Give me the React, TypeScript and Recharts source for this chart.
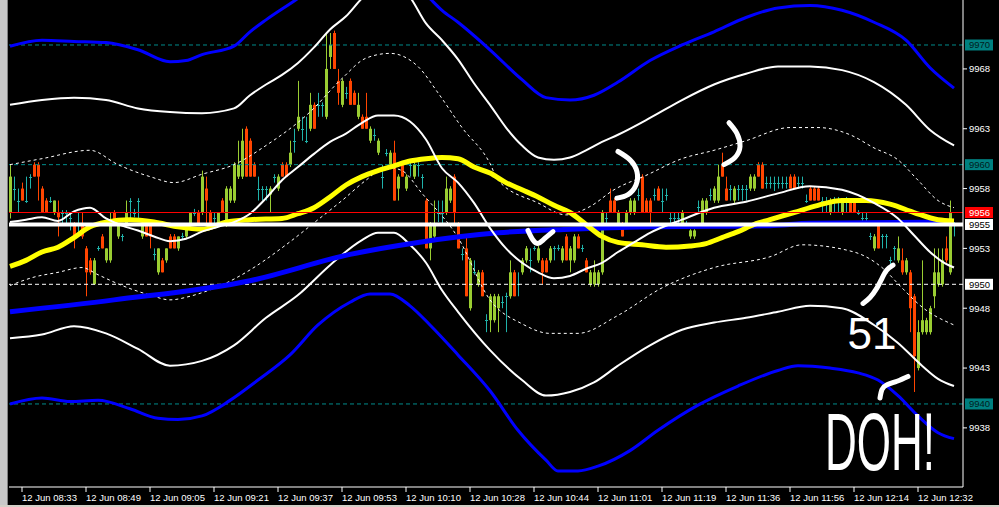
import React from 'react';
import { ComposedChart, Bar, Line, XAxis, YAxis, ReferenceLine, ReferenceDot } from 'recharts';

// [open, high, low, close] per one-minute bar
const candles: number[][] = [
  [9956, 9960, 9955.5, 9959], [9958, 9959, 9957, 9958], [9957, 9958, 9956, 9957], [9958, 9958.5, 9957, 9957],
  [9957, 9959, 9956.8, 9957], [9959, 9959.2, 9958, 9959], [9960, 9960.2, 9959, 9959], [9960, 9960.2, 9957, 9959],
  [9958, 9958.2, 9956, 9956], [9957, 9957.2, 9956, 9956], [9957, 9957.3, 9956.8, 9957], [9956, 9957, 9955.8, 9957],
  [9956, 9957, 9954, 9955.6], [9956, 9956.2, 9955, 9956], [9956, 9956.2, 9955, 9956], [9955.5, 9956, 9954.5, 9955.5],
  [9955, 9955.2, 9953, 9954], [9955, 9956, 9954, 9955], [9955, 9956, 9953.8, 9954], [9953, 9953.2, 9949, 9951],
  [9952, 9952.2, 9950.8, 9951], [9950, 9952.2, 9950, 9952], [9953, 9953.2, 9952.8, 9953], [9954, 9954.2, 9953, 9953],
  [9952, 9953, 9951.8, 9953], [9952, 9956, 9951.8, 9955], [9956, 9956.2, 9955, 9955], [9954, 9955, 9953.8, 9955],
  [9954, 9954.2, 9953.6, 9954], [9955, 9957, 9955, 9956], [9957, 9957.2, 9955.5, 9957], [9956, 9956.3, 9955.6, 9956],
  [9957, 9957.2, 9955.5, 9957], [9954, 9955, 9953.8, 9955], [9955, 9955.2, 9954, 9954], [9955, 9955.2, 9953, 9954],
  [9952.5, 9953, 9952, 9952.5], [9951, 9953, 9950.8, 9953], [9952, 9952.2, 9951, 9951], [9952, 9953, 9951.8, 9953],
  [9954, 9954.2, 9953, 9953], [9954, 9954.2, 9953, 9953], [9953, 9954, 9952.8, 9954], [9954, 9954.3, 9953.7, 9954],
  [9954, 9955, 9953.8, 9955], [9955, 9956, 9954.8, 9956], [9956, 9956.3, 9955.7, 9956], [9956, 9956.2, 9955, 9955],
  [9956, 9959.5, 9955.8, 9959], [9958, 9959, 9955, 9957], [9956, 9956.2, 9954.8, 9955], [9955.5, 9956, 9955, 9955.5],
  [9955, 9956, 9954.8, 9956], [9957, 9957.2, 9956, 9956], [9955, 9958.2, 9954.8, 9958], [9957, 9958.2, 9956.8, 9958],
  [9957, 9960.2, 9956.8, 9960], [9959, 9962, 9958.8, 9960], [9959, 9963, 9958.8, 9962], [9963, 9963.2, 9959, 9959],
  [9962, 9962.2, 9959, 9959], [9960, 9960.2, 9959, 9959], [9958, 9959, 9957, 9958], [9958, 9958.2, 9957, 9958],
  [9958, 9958.2, 9957, 9958], [9957.5, 9958.2, 9956, 9958], [9959, 9959.2, 9958.5, 9959], [9958, 9959.2, 9957.8, 9959],
  [9960, 9960.2, 9959, 9959], [9960, 9960.2, 9959, 9959], [9960, 9962, 9959.8, 9961], [9962, 9963, 9961, 9962],
  [9963, 9967, 9962.8, 9964], [9963, 9964, 9962, 9963], [9962, 9964, 9961.8, 9962], [9963, 9966, 9962.8, 9965],
  [9965, 9965.2, 9963, 9963], [9965, 9966, 9964, 9965], [9965, 9965.2, 9964, 9965], [9964, 9971, 9963.8, 9968],
  [9969, 9971, 9968, 9970], [9971, 9971.2, 9968, 9968], [9967, 9968, 9965, 9966], [9965, 9967.2, 9964.8, 9967],
  [9966, 9966.5, 9965.5, 9966], [9967, 9967.2, 9965, 9965], [9966, 9966.2, 9965, 9965], [9964, 9966, 9963.8, 9965],
  [9964, 9964.2, 9963, 9963], [9964, 9966, 9963, 9963], [9962, 9963.2, 9961.8, 9963], [9962.5, 9963, 9962, 9962.5],
  [9961, 9962.2, 9960.8, 9962], [9959, 9960, 9958, 9959], [9961, 9961.3, 9960.7, 9961], [9960, 9961.2, 9959.8, 9961],
  [9961, 9962, 9957, 9957], [9958, 9959.2, 9957, 9959], [9960, 9960.2, 9959, 9959], [9958, 9959.2, 9957.8, 9959],
  [9960, 9960.2, 9959, 9960], [9959, 9960.2, 9958.8, 9960], [9960, 9960.2, 9959, 9960], [9959, 9959.2, 9958, 9959],
  [9957, 9957.2, 9953, 9953], [9953, 9955.2, 9952, 9955], [9954, 9957, 9953.8, 9955], [9956, 9957, 9955.2, 9956],
  [9956, 9957, 9955, 9956], [9956, 9959, 9955.8, 9958], [9957, 9958.2, 9956.8, 9958], [9959, 9959.2, 9955, 9956],
  [9955, 9955.2, 9953, 9953], [9952.5, 9953, 9952, 9952.5], [9953, 9954, 9949, 9949], [9948, 9952.2, 9947.8, 9952],
  [9951, 9952, 9950.8, 9951], [9950, 9951.2, 9949.8, 9951], [9951, 9951.2, 9949, 9949], [9947, 9947.5, 9946, 9947],
  [9947, 9949.2, 9946, 9949], [9947, 9949.2, 9946.8, 9949], [9948, 9949.2, 9946, 9949], [9948.5, 9949, 9948, 9948.5],
  [9949, 9949.3, 9946, 9949], [9949, 9952, 9948.8, 9951], [9951, 9951.2, 9949, 9949], [9950, 9951, 9949, 9950],
  [9951, 9952.2, 9950.8, 9952], [9952, 9953.2, 9951.8, 9953], [9952, 9953, 9951, 9952], [9953, 9953.2, 9952.8, 9953],
  [9952, 9953.2, 9951.8, 9953], [9952, 9952.2, 9950, 9951], [9952, 9952.2, 9951, 9951], [9952, 9953.2, 9951.8, 9953],
  [9953, 9953.2, 9952, 9953], [9953, 9953.3, 9952.8, 9953], [9952, 9953.2, 9951.8, 9953], [9954, 9954.2, 9952, 9952],
  [9952, 9953.2, 9951, 9953], [9952, 9954.2, 9951.8, 9954], [9954, 9954.2, 9953, 9953], [9953, 9953.3, 9952.7, 9953],
  [9952, 9952.2, 9951, 9951], [9950, 9951.2, 9949.8, 9951], [9950, 9952, 9949.8, 9951], [9950, 9951.2, 9949.8, 9951],
  [9951, 9956.2, 9950.8, 9956], [9955.5, 9956, 9955, 9955.5], [9957, 9958, 9956, 9956], [9957, 9957.2, 9956, 9956],
  [9955, 9956.2, 9954.8, 9956], [9955, 9955.2, 9954, 9954], [9955, 9956.2, 9954.8, 9956], [9956, 9957.2, 9955.8, 9957],
  [9956, 9957.2, 9955.8, 9957], [9957.5, 9958, 9957, 9957.5], [9959, 9959.2, 9956, 9956], [9957, 9957.2, 9956, 9956],
  [9957, 9957.2, 9955, 9956], [9957.5, 9958, 9957, 9957.5], [9958, 9958.2, 9957, 9957], [9957, 9958, 9956, 9957],
  [9957.5, 9958, 9957, 9957.5], [9955.5, 9956, 9955, 9955.5], [9955.5, 9956, 9955, 9955.5], [9955.5, 9956, 9955, 9955.5],
  [9955, 9956.2, 9954.8, 9956], [9955, 9955.3, 9954.7, 9955], [9954, 9954.6, 9953.8, 9954.5], [9954, 9954.6, 9953.8, 9954.5],
  [9956.5, 9957, 9956, 9956.5], [9955, 9957.2, 9954.8, 9957], [9956, 9957.2, 9955.8, 9957], [9957.5, 9958, 9957, 9957.5],
  [9957, 9958.2, 9956.8, 9958], [9957, 9960, 9956.8, 9959], [9960, 9961, 9959, 9959], [9958, 9959, 9957, 9957],
  [9958, 9958.3, 9957, 9958], [9957, 9958.2, 9956.8, 9958], [9958, 9958.3, 9957, 9958], [9958, 9958.3, 9957, 9958],
  [9958, 9958.3, 9957, 9958], [9958, 9959.2, 9957.8, 9959], [9958, 9959.2, 9957.8, 9959], [9960, 9960.2, 9959, 9959],
  [9960, 9960.2, 9958, 9958], [9958.5, 9959, 9958, 9958.5], [9958.5, 9959, 9958, 9958.5], [9958.5, 9959, 9957.8, 9958.5],
  [9958.5, 9959, 9958, 9958.5], [9958.5, 9959, 9958, 9958.5], [9958.5, 9959, 9958, 9958.5], [9959, 9959.2, 9958, 9958],
  [9959, 9959.2, 9958, 9958], [9958.5, 9959, 9958, 9958.5], [9958.5, 9959, 9958, 9958.5], [9957, 9957.5, 9956.8, 9957],
  [9958, 9958.2, 9957, 9957], [9958, 9958.2, 9957, 9957], [9958, 9958.2, 9957, 9957], [9957, 9957.3, 9956, 9957],
  [9957, 9957.3, 9956, 9957], [9956, 9957.2, 9955.8, 9957], [9957, 9957.3, 9956, 9957], [9957, 9957.3, 9956, 9957],
  [9956, 9957.2, 9955.8, 9957], [9957, 9957.3, 9956, 9957], [9957, 9957.2, 9956, 9956], [9957, 9957.2, 9956, 9956],
  [9956, 9956.2, 9955.8, 9956], [9955.5, 9956, 9955, 9955.5], [9955.5, 9956, 9955, 9955.5], [9954, 9954.3, 9953.7, 9954],
  [9953, 9954.2, 9952.8, 9954], [9955, 9955.2, 9953, 9953], [9954, 9954.2, 9953, 9954], [9954, 9954.2, 9953, 9954],
  [9952, 9952.3, 9951.7, 9952], [9953, 9953.2, 9952, 9953], [9952, 9954, 9951.8, 9953], [9952, 9953, 9950.8, 9951],
  [9951, 9952.2, 9950.8, 9952], [9951, 9951.2, 9946, 9948], [9949, 9949.2, 9941, 9944], [9943, 9947, 9942.8, 9946],
  [9946, 9952, 9945.8, 9947], [9946, 9947.2, 9945.8, 9947], [9946, 9948.2, 9945.8, 9948], [9949, 9953, 9948, 9951],
  [9950, 9953, 9949.8, 9951], [9950, 9953, 9949.8, 9952], [9953, 9954, 9951.8, 9952], [9951, 9957, 9950.8, 9956],
  [9955, 9955.2, 9954, 9955],
];

// indicator readings: [bar index, price]
const blueUpper = [[0,9969.9],[8,9970.4],[16,9970.3],[24,9970.2],[32,9969.6],[40,9968.6],[44,9968.7],[48,9969.2],[56,9969.9],[60,9971.1],[64,9972.1],[72,9973.9],[80,9975.9],[88,9977.1],[96,9976.3],[104,9974.2],[108,9972.9],[112,9971.9],[120,9969.6],[128,9967.1],[134,9965.6],[140,9965.4],[146,9965.8],[152,9966.9],[160,9968.7],[168,9970],[176,9971.1],[184,9972.3],[192,9973.1],[200,9973.3],[208,9972.9],[216,9971.9],[224,9970.4],[230,9968.1],[236,9966.4]];
const blueLower = [[0,9940],[8,9940.5],[15,9940.2],[22,9940.3],[30,9939.6],[37,9938.8],[42,9938.7],[48,9939],[55,9940.3],[62,9942],[70,9944.1],[77,9946.6],[85,9948.5],[90,9949.2],[95,9949.2],[100,9948.2],[105,9946.6],[112,9944.1],[120,9941.1],[127,9937.8],[134,9935.3],[137,9934.4],[142,9934.4],[147,9934.8],[155,9936.1],[162,9937.8],[172,9939.9],[182,9941.5],[192,9942.8],[197,9943.2],[205,9943],[212,9942.6],[217,9942],[222,9940.7],[227,9939],[232,9937.6],[236,9937.1]];
const whiteUpper = [[0,9965],[8,9965.4],[16,9965.6],[24,9965.4],[32,9964.7],[40,9964.4],[48,9964.3],[56,9964.7],[60,9965.8],[64,9966.7],[68,9967.5],[72,9968.5],[76,9969.8],[80,9971.3],[84,9972.4],[88,9973.9],[92,9975],[96,9975.3],[100,9974],[104,9971.8],[108,9970.4],[112,9968.8],[116,9966.8],[120,9965],[124,9963.1],[128,9961.6],[132,9960.6],[136,9960.4],[140,9960.6],[144,9961.2],[148,9961.9],[152,9962.5],[160,9963.9],[168,9965.4],[176,9966.7],[184,9967.6],[192,9968.2],[200,9968.2],[208,9967.9],[216,9966.9],[224,9965],[230,9962.9],[236,9961.6]];
const whiteLower = [[0,9945.5],[8,9945.8],[16,9946.5],[24,9945.9],[32,9944.6],[40,9943.2],[48,9943.6],[56,9944.9],[64,9947.2],[72,9949.1],[80,9951.6],[88,9953.7],[92,9954.3],[96,9954.3],[100,9953.3],[104,9951.8],[108,9949.5],[112,9947.7],[120,9944.5],[128,9942],[134,9940.7],[140,9941],[146,9941.8],[152,9943.2],[160,9944.9],[168,9946.2],[176,9946.8],[184,9947.2],[192,9947.7],[200,9948.2],[208,9948],[216,9946.6],[222,9945.1],[228,9943.2],[232,9942.1],[236,9941.5]];
const dashUpper = [[0,9960],[8,9960.5],[20,9961.2],[27,9960],[35,9959],[41,9958.5],[48,9959.2],[56,9960],[64,9961.6],[75,9964.4],[83,9967.2],[89,9968.9],[95,9969.3],[102,9968.2],[107,9966],[113,9963.1],[120,9960.1],[122,9958.7],[132,9956.8],[139,9955.8],[145,9956.5],[151,9957.9],[159,9959.1],[168,9960.5],[176,9961.2],[184,9962],[195,9963.1],[202,9963.1],[210,9962.5],[216,9961.4],[222,9960.4],[227,9958.7],[232,9957],[236,9956.4]];
const dashLower = [[0,9949.9],[6,9950.6],[12,9951],[18,9951.4],[22,9950.8],[28,9949.9],[35,9949.1],[40,9948.7],[45,9949],[48,9949.3],[54,9950.1],[60,9951.2],[69,9953.3],[77,9955.4],[83,9957],[89,9958.7],[94,9959.8],[98,9959.5],[103,9957.6],[112,9953.9],[120,9948.7],[128,9946.7],[135,9945.9],[142,9945.9],[152,9947.4],[163,9949.7],[176,9951.4],[190,9952.3],[198,9953.3],[211,9952.7],[218,9951.4],[223,9949.7],[228,9948.1],[236,9946.6]];
const centerMa = [[0,9955.2],[4,9955.4],[8,9955.6],[12,9955.3],[16,9956.1],[20,9956.4],[24,9955.5],[28,9954.9],[32,9954.5],[36,9954],[40,9953.6],[44,9953.8],[48,9954.4],[52,9954.8],[56,9955.2],[60,9955.9],[64,9957.2],[68,9958.7],[72,9959.8],[76,9960.9],[80,9961.9],[84,9962.6],[88,9963.5],[92,9964.1],[96,9964.1],[100,9963.6],[104,9962.1],[108,9959.7],[112,9958.5],[116,9956.8],[120,9954.7],[124,9953],[128,9951.8],[132,9951],[136,9950.5],[140,9950.7],[144,9951.3],[148,9951.8],[152,9952.7],[156,9953.5],[160,9954.3],[168,9955.4],[176,9956.4],[184,9956.9],[192,9957.6],[200,9958.2],[208,9957.9],[216,9956.8],[222,9955.5],[226,9954.1],[230,9952.7],[234,9951.7],[236,9951.4]];
const yellowMa = [[0,9951.5],[4,9952],[8,9952.7],[12,9953.1],[16,9953.9],[20,9954.8],[24,9955.2],[30,9955.4],[36,9955.2],[42,9954.8],[48,9954.6],[54,9955.2],[60,9955.4],[68,9955.5],[72,9955.9],[76,9956.4],[80,9957.3],[84,9958.3],[88,9959],[92,9959.5],[96,9959.9],[100,9960.3],[104,9960.5],[108,9960.6],[112,9960.5],[116,9959.8],[120,9959.3],[124,9958.5],[128,9957.9],[132,9957.3],[136,9956.6],[140,9956],[144,9955],[148,9954],[152,9953.5],[158,9953.3],[164,9953.1],[170,9953.2],[174,9953.4],[178,9953.9],[182,9954.4],[186,9955],[190,9955.4],[196,9956],[202,9956.6],[208,9957],[214,9957],[220,9956.7],[226,9956],[232,9955.4],[236,9955.3]];
const blueMa = [[0,9947.7],[26,9948.7],[60,9950.3],[85,9952.5],[102,9953.5],[122,9954.3],[140,9954.6],[160,9954.8],[190,9954.9],[200,9955.1],[236,9955.2]];

// hand-drawn marks on the chart, in chart units
const scribble1 = [[152,9961.1],[155,9960.4],[156.75,9959.4],[156.5,9958.3],[154.5,9957.5],[151.75,9957.2]];
const scribble2 = [[179.75,9963.5],[181.75,9962.6],[182.5,9961.5],[181.25,9960.6],[178.5,9960]];
const scribble3 = [[129.5,9954.5],[130.75,9953.7],[132,9953.4],[133.25,9953.7],[135.75,9954.4]];
const scribble4 = [[213.25,9948.4],[215,9948.9],[216.75,9949.7],[218,9950.5],[219.25,9951.2],[220.75,9951.6]];
const scribble5 = [[217.5,9940.5],[218,9941.2],[219.25,9941.6],[221.75,9941.9],[224.5,9942.3]];
const notes = [
  { i: 215.5, p: 9944.6, text: '51', size: 44, stretch: 1 },
  { i: 217.5, p: 9934.5, text: 'DOH!', size: 44, stretch: 1.85 },
];

const timeTicks = [3, 19, 35, 51, 67, 83, 99, 115, 131, 147, 163, 179, 195, 211, 227];
const timeLabels = ['12 Jun 08:33', '12 Jun 08:49', '12 Jun 09:05', '12 Jun 09:21', '12 Jun 09:37', '12 Jun 09:53', '12 Jun 10:10', '12 Jun 10:28', '12 Jun 10:44', '12 Jun 11:01', '12 Jun 11:19', '12 Jun 11:36', '12 Jun 11:56', '12 Jun 12:14', '12 Jun 12:32'];
const priceTicks = [9938, 9943, 9948, 9953, 9958, 9963, 9968];

const data = candles.map((c, i) => ({ i, o: c[0], h: c[1], l: c[2], c: c[3] }));
const toSeries = (pts: number[][]) => pts.map(([i, v]) => ({ i, v }));

const FONT = 'Liberation Sans, Arial, sans-serif';
const BULL = '#9acd32';
const BEAR = '#ff4500';
const DOJI = '#20b2aa';

const Candle = (props: any) => {
  const { x, y, width, height, payload } = props;
  if (!payload || x == null || y == null) return null;
  const { o, h, l, c } = payload;
  const hgt = Math.abs(height || 0);
  const top = height < 0 ? y + height : y;
  const ppu = h > l ? hgt / (h - l) : 0;
  const yOf = (p: number) => top + (h - p) * ppu;
  const color = c > o ? BULL : c < o ? BEAR : DOJI;
  const cx = Math.round(x + width / 2);
  const bTop = yOf(Math.max(o, c));
  const bBot = yOf(Math.min(o, c));
  return (
    <g>
      <line x1={cx + 0.5} x2={cx + 0.5} y1={top} y2={top + hgt} stroke={color} strokeWidth={1} />
      {c === o ? (
        <line x1={cx - 1} x2={cx + 2} y1={Math.round(bTop) + 0.5} y2={Math.round(bTop) + 0.5} stroke={color} strokeWidth={1} />
      ) : (
        <rect x={cx - 1} y={bTop} width={3} height={Math.max(1, bBot - bTop)} fill={color} />
      )}
    </g>
  );
};

const TimeTick = (props: any) => {
  const { x, y, payload } = props;
  const idx = timeTicks.indexOf(payload.value);
  if (idx < 0) return null;
  return (
    <text x={x} y={y + 7} fill="#ffffff" fontSize={9.5} fontFamily={FONT} textAnchor="start">
      {timeLabels[idx]}
    </text>
  );
};

const boxLabel = (bg: string, fg: string, text: string) => (props: any) => {
  const vb = props.viewBox;
  if (!vb) return null;
  const bx = vb.x + vb.width + 2;
  const by = vb.y;
  return (
    <g>
      <rect x={bx} y={by - 5.5} width={28} height={11} fill={bg} />
      <text x={bx + 4} y={by + 3.5} fill={fg} fontSize={9.5} fontFamily={FONT}>{text}</text>
    </g>
  );
};

const lineProps = { dataKey: 'v', dot: false, activeDot: false, isAnimationActive: false, legendType: 'none' as const };

export default function App() {
  return (
    <div style={{ position: 'fixed', left: 0, top: 0, width: 999, height: 507, background: '#000', overflow: 'hidden' }}>
      <ComposedChart width={999} height={507} data={data} margin={{ top: 0, right: 0, bottom: 0, left: 9 }}>
        <XAxis
          dataKey="i"
          type="number"
          domain={[-0.25, 238.25]}
          allowDataOverflow
          ticks={timeTicks}
          interval={0}
          height={20}
          stroke="#ffffff"
          tickSize={5}
          tick={<TimeTick />}
        />
        <YAxis
          orientation="right"
          type="number"
          domain={[9933.06, 9973.76]}
          allowDataOverflow
          ticks={priceTicks}
          interval={0}
          width={36}
          stroke="#ffffff"
          tickSize={4}
          tickMargin={2}
          tick={{ fill: '#ffffff', fontSize: 9.5, fontFamily: FONT }}
        />
        <ReferenceLine y={9970} stroke="#008b8b" strokeDasharray="4 3" label={boxLabel('#008080', '#002020', '9970')} />
        <ReferenceLine y={9960} stroke="#008b8b" strokeDasharray="4 3" label={boxLabel('#008080', '#002020', '9960')} />
        <ReferenceLine y={9940} stroke="#008b8b" strokeDasharray="4 3" label={boxLabel('#008080', '#002020', '9940')} />
        <ReferenceLine y={9950} stroke="#ffffff" strokeDasharray="4 3" label={boxLabel('#ffffff', '#000000', '9950')} />
        <Bar dataKey={(d: any) => [d.l, d.h]} barSize={3} shape={<Candle />} isAnimationActive={false} />
        <Line {...lineProps} data={toSeries(blueUpper)} type="monotone" stroke="#0000ff" strokeWidth={3} />
        <Line {...lineProps} data={toSeries(blueLower)} type="monotone" stroke="#0000ff" strokeWidth={3} />
        <Line {...lineProps} data={toSeries(whiteUpper)} type="monotone" stroke="#ffffff" strokeWidth={2} />
        <Line {...lineProps} data={toSeries(whiteLower)} type="monotone" stroke="#ffffff" strokeWidth={2} />
        <Line {...lineProps} data={toSeries(dashUpper)} type="monotone" stroke="#ffffff" strokeWidth={1} strokeDasharray="3 3" />
        <Line {...lineProps} data={toSeries(dashLower)} type="monotone" stroke="#ffffff" strokeWidth={1} strokeDasharray="3 3" />
        <Line {...lineProps} data={toSeries(blueMa)} type="monotone" stroke="#0000ff" strokeWidth={5} />
        <Line {...lineProps} data={toSeries(yellowMa)} type="monotone" stroke="#ffff00" strokeWidth={5} />
        <Line {...lineProps} data={toSeries(centerMa)} type="monotone" stroke="#ffffff" strokeWidth={2} />
        <ReferenceLine y={9956} stroke="#ff0000" strokeWidth={1} label={boxLabel('#ff0000', '#ffffff', '9956')} />
        <ReferenceLine y={9955} stroke="#ffffff" strokeWidth={4} label={boxLabel('#ffffff', '#000000', '9955')} />
        {[scribble1, scribble2, scribble3, scribble4, scribble5].map((s, k) => (
          <Line key={k} {...lineProps} data={toSeries(s)} type="natural" stroke="#ffffff" strokeWidth={5} strokeLinecap="round" strokeLinejoin="round" />
        ))}
        {notes.map((n) => (
          <ReferenceDot
            key={n.text}
            x={n.i}
            y={n.p}
            r={0}
            ifOverflow="visible"
            shape={(p: any) => (
              <text
                transform={`translate(${p.cx},${p.cy}) scale(1,${n.stretch})`}
                fill="#ffffff"
                fontSize={n.size}
                fontFamily={FONT}
                textAnchor="middle"
              >
                {n.text}
              </text>
            )}
          />
        ))}
      </ComposedChart>
      <div style={{ position: 'absolute', left: 0, top: 0, width: 8, height: 507, background: '#c8c8c8', borderRight: '1px solid #808080', boxSizing: 'border-box' }} />
      <div style={{ position: 'absolute', left: 0, bottom: 0, width: 999, height: 2, background: '#d4d0c8' }} />
    </div>
  );
}
